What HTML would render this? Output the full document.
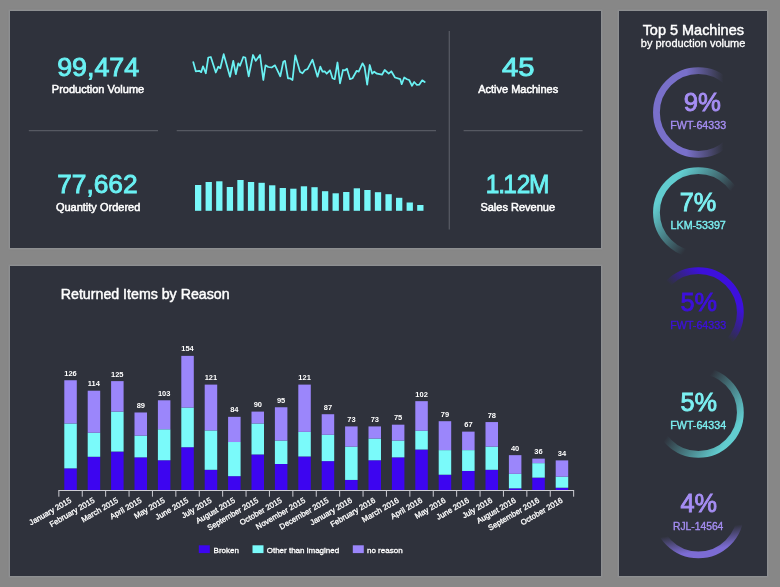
<!DOCTYPE html>
<html lang="en">
<head>
<meta charset="utf-8">
<title>Production Dashboard</title>
<style>
html,body{margin:0;padding:0;}
body{width:780px;height:587px;background:#878787;overflow:hidden;position:relative;font-family:"Liberation Sans",sans-serif;}
.panel{position:absolute;background:#2f323c;box-shadow:0 0 1.5px 1px rgba(152,155,160,.6);}
svg{position:absolute;left:0;top:0;display:block;overflow:visible;}
text{font-family:"Liberation Sans",sans-serif;}
.big{font-size:26.7px;fill:#6af1f3;text-anchor:middle;stroke:#6af1f3;stroke-width:.9px;}
.lbl{font-size:11px;fill:#fff;text-anchor:middle;stroke:#fff;stroke-width:.5px;}
.title{font-size:14.2px;fill:#fff;stroke:#fff;stroke-width:.45px;}
.val{font-size:7.5px;font-weight:700;fill:#fff;text-anchor:middle;}
.ax{font-size:7.8px;fill:#fff;text-anchor:end;stroke:#fff;stroke-width:.3px;}
.lg{font-size:8px;fill:#fff;stroke:#fff;stroke-width:.3px;}
.pct{font-size:26.7px;text-anchor:middle;stroke-width:.9px;}
.mid{font-size:10.7px;text-anchor:middle;stroke-width:.35px;}
</style>
</head>
<body>

<section class="panel" style="left:10px;top:11px;width:591px;height:237px;">
<svg width="591" height="237" viewBox="10 11 591 237">
<g stroke="#565962" stroke-width="1.3" fill="none">
<path d="M28.8 130.7H158"/><path d="M176.7 130.7H436"/><path d="M463.6 130.7H582.6"/><path d="M449.3 31V229.6"/>
</g>
<text class="big" x="98.2" y="75.6" textLength="82" lengthAdjust="spacingAndGlyphs">99,474</text>
<text class="lbl" x="98" y="92.6">Production Volume</text>
<text class="big" x="97.4" y="193.3" textLength="80.5" lengthAdjust="spacingAndGlyphs">77,662</text>
<text class="lbl" x="98.1" y="211.2">Quantity Ordered</text>
<text class="big" x="518.3" y="75.6" textLength="32.5" lengthAdjust="spacingAndGlyphs">45</text>
<text class="lbl" x="518.2" y="92.6">Active Machines</text>
<g transform="translate(517.6 193.3) scale(.916 1)"><text class="big" x="0" y="0" dx="0 -1.3 -1.8 -0.3 -1.3">1.12M</text></g>
<text class="lbl" x="517.7" y="211.2">Sales Revenue</text>
<path d="M193.3 62.2 L195.8 71.3 L199.2 70.8 L201.2 72.2 L203.0 66.3 L205.8 73.3 L208.3 57.5 L210.8 57.0 L215.8 72.5 L218.3 66.7 L220.3 68.3 L223.7 54.2 L230.0 76.7 L233.3 60.8 L235.8 74.2 L238.3 63.3 L240.0 65.8 L243.3 57.0 L245.3 57.5 L248.7 76.3 L253.0 55.0 L255.8 60.8 L260.0 55.0 L263.3 80.0 L265.5 65.3 L268.3 67.0 L271.7 67.5 L275.0 65.3 L280.3 76.3 L283.3 61.7 L285.0 60.8 L288.0 78.3 L290.0 78.3 L292.5 80.0 L295.3 55.3 L300.0 71.7 L302.5 73.3 L305.0 70.0 L307.5 69.2 L312.5 59.7 L317.5 76.7 L320.3 66.7 L322.5 71.7 L324.7 71.3 L326.7 73.7 L330.0 70.3 L332.5 78.3 L334.7 79.2 L337.5 62.5 L340.0 83.3 L343.0 70.0 L345.0 70.3 L347.0 68.7 L350.0 79.2 L352.5 78.3 L356.7 70.8 L358.7 71.7 L362.5 63.3 L364.5 66.7 L367.2 84.7 L369.7 65.0 L372.2 73.7 L374.2 71.7 L377.0 73.7 L382.0 74.7 L384.7 70.0 L388.7 73.7 L391.3 71.3 L395.0 77.5 L400.3 79.2 L401.7 84.2 L404.2 77.5 L407.0 79.2 L409.2 80.0 L412.0 85.8 L414.2 82.0 L417.0 85.0 L419.2 84.7 L422.2 80.3 L424.7 82.0" fill="none" stroke="#6af1f3" stroke-width="1.75" stroke-linejoin="round" stroke-linecap="round"/>
<g fill="#78f8fa">
<rect x="195.00" y="185.0" width="6.3" height="25.8"/>
<rect x="205.58" y="182.0" width="6.3" height="28.8"/>
<rect x="216.16" y="181.3" width="6.3" height="29.5"/>
<rect x="226.74" y="187.0" width="6.3" height="23.8"/>
<rect x="237.32" y="180.0" width="6.3" height="30.8"/>
<rect x="247.90" y="182.0" width="6.3" height="28.8"/>
<rect x="258.48" y="182.8" width="6.3" height="28.0"/>
<rect x="269.06" y="185.3" width="6.3" height="25.5"/>
<rect x="279.64" y="188.0" width="6.3" height="22.8"/>
<rect x="290.22" y="188.7" width="6.3" height="22.1"/>
<rect x="300.80" y="186.3" width="6.3" height="24.5"/>
<rect x="311.38" y="187.2" width="6.3" height="23.6"/>
<rect x="321.96" y="191.2" width="6.3" height="19.6"/>
<rect x="332.54" y="193.3" width="6.3" height="17.5"/>
<rect x="343.12" y="192.0" width="6.3" height="18.8"/>
<rect x="353.70" y="188.3" width="6.3" height="22.5"/>
<rect x="364.28" y="190.0" width="6.3" height="20.8"/>
<rect x="374.86" y="192.2" width="6.3" height="18.6"/>
<rect x="385.44" y="194.2" width="6.3" height="16.6"/>
<rect x="396.02" y="197.8" width="6.3" height="13.0"/>
<rect x="406.60" y="202.5" width="6.3" height="8.3"/>
<rect x="417.18" y="205.0" width="6.3" height="5.8"/>
</g>
</svg></section>
<section class="panel" style="left:10px;top:266px;width:591px;height:310px;">
<svg width="591" height="310" viewBox="10 266 591 310">
<text class="title" x="60.8" y="299.4">Returned Items by Reason</text>
<g fill="#3d05f0">
<rect x="64.30" y="468.35" width="12.5" height="21.65"/>
<rect x="87.70" y="456.77" width="12.5" height="33.23"/>
<rect x="111.10" y="451.56" width="12.5" height="38.44"/>
<rect x="134.50" y="457.35" width="12.5" height="32.65"/>
<rect x="157.90" y="460.25" width="12.5" height="29.75"/>
<rect x="181.30" y="447.22" width="12.5" height="42.78"/>
<rect x="204.70" y="469.80" width="12.5" height="20.20"/>
<rect x="228.10" y="476.16" width="12.5" height="13.84"/>
<rect x="251.50" y="454.46" width="12.5" height="35.54"/>
<rect x="274.90" y="464.01" width="12.5" height="25.99"/>
<rect x="298.30" y="456.48" width="12.5" height="33.52"/>
<rect x="321.70" y="461.11" width="12.5" height="28.89"/>
<rect x="345.10" y="479.93" width="12.5" height="10.07"/>
<rect x="368.50" y="460.25" width="12.5" height="29.75"/>
<rect x="391.90" y="457.35" width="12.5" height="32.65"/>
<rect x="415.30" y="449.54" width="12.5" height="40.46"/>
<rect x="438.70" y="474.72" width="12.5" height="15.28"/>
<rect x="462.10" y="470.96" width="12.5" height="19.04"/>
<rect x="485.50" y="469.80" width="12.5" height="20.20"/>
<rect x="508.90" y="488.32" width="12.5" height="1.68"/>
<rect x="532.30" y="477.61" width="12.5" height="12.39"/>
<rect x="555.70" y="487.71" width="12.5" height="2.29"/>
</g>
<g fill="#7afafa">
<rect x="64.30" y="423.49" width="12.5" height="44.86"/>
<rect x="87.70" y="432.75" width="12.5" height="24.02"/>
<rect x="111.10" y="411.62" width="12.5" height="39.94"/>
<rect x="134.50" y="435.64" width="12.5" height="21.71"/>
<rect x="157.90" y="429.28" width="12.5" height="30.97"/>
<rect x="181.30" y="407.57" width="12.5" height="39.65"/>
<rect x="204.70" y="430.43" width="12.5" height="39.36"/>
<rect x="228.10" y="442.01" width="12.5" height="34.15"/>
<rect x="251.50" y="423.49" width="12.5" height="30.97"/>
<rect x="274.90" y="440.56" width="12.5" height="23.44"/>
<rect x="298.30" y="431.88" width="12.5" height="24.60"/>
<rect x="321.70" y="434.78" width="12.5" height="26.34"/>
<rect x="345.10" y="446.64" width="12.5" height="33.29"/>
<rect x="368.50" y="438.54" width="12.5" height="21.71"/>
<rect x="391.90" y="440.56" width="12.5" height="16.79"/>
<rect x="415.30" y="430.72" width="12.5" height="18.81"/>
<rect x="438.70" y="450.12" width="12.5" height="24.60"/>
<rect x="462.10" y="450.12" width="12.5" height="20.84"/>
<rect x="485.50" y="446.64" width="12.5" height="23.15"/>
<rect x="508.90" y="473.85" width="12.5" height="14.47"/>
<rect x="532.30" y="463.14" width="12.5" height="14.47"/>
<rect x="555.70" y="476.69" width="12.5" height="11.03"/>
</g>
<g fill="#9b86fb">
<rect x="64.30" y="380.25" width="12.5" height="43.23"/>
<rect x="87.70" y="390.71" width="12.5" height="42.04"/>
<rect x="111.10" y="381.12" width="12.5" height="30.50"/>
<rect x="134.50" y="412.48" width="12.5" height="23.16"/>
<rect x="157.90" y="400.29" width="12.5" height="28.99"/>
<rect x="181.30" y="355.87" width="12.5" height="51.70"/>
<rect x="204.70" y="384.61" width="12.5" height="45.83"/>
<rect x="228.10" y="416.84" width="12.5" height="25.18"/>
<rect x="251.50" y="411.61" width="12.5" height="11.88"/>
<rect x="274.90" y="407.25" width="12.5" height="33.31"/>
<rect x="298.30" y="384.61" width="12.5" height="47.27"/>
<rect x="321.70" y="414.22" width="12.5" height="20.55"/>
<rect x="345.10" y="426.42" width="12.5" height="20.23"/>
<rect x="368.50" y="426.42" width="12.5" height="12.12"/>
<rect x="391.90" y="424.68" width="12.5" height="15.89"/>
<rect x="415.30" y="401.16" width="12.5" height="29.57"/>
<rect x="438.70" y="421.19" width="12.5" height="28.92"/>
<rect x="462.10" y="431.64" width="12.5" height="18.47"/>
<rect x="485.50" y="422.06" width="12.5" height="24.58"/>
<rect x="508.90" y="455.16" width="12.5" height="18.69"/>
<rect x="532.30" y="458.64" width="12.5" height="4.50"/>
<rect x="555.70" y="460.39" width="12.5" height="16.30"/>
</g>
<path d="M58.4 490.5H574.1M58.85 490.5v6.2M82.25 490.5v6.2M105.65 490.5v6.2M129.05 490.5v6.2M152.45 490.5v6.2M175.85 490.5v6.2M199.25 490.5v6.2M222.65 490.5v6.2M246.05 490.5v6.2M269.45 490.5v6.2M292.85 490.5v6.2M316.25 490.5v6.2M339.65 490.5v6.2M363.05 490.5v6.2M386.45 490.5v6.2M409.85 490.5v6.2M433.25 490.5v6.2M456.65 490.5v6.2M480.05 490.5v6.2M503.45 490.5v6.2M526.85 490.5v6.2M550.25 490.5v6.2M573.65 490.5v6.2" stroke="#cdcdd3" stroke-width="1" fill="none"/>
<g>
<text class="val" x="70.5" y="375.7">126</text>
<text class="val" x="93.9" y="386.1">114</text>
<text class="val" x="117.3" y="376.5">125</text>
<text class="val" x="140.8" y="407.9">89</text>
<text class="val" x="164.2" y="395.7">103</text>
<text class="val" x="187.5" y="351.3">154</text>
<text class="val" x="210.9" y="380.0">121</text>
<text class="val" x="234.3" y="412.2">84</text>
<text class="val" x="257.8" y="407.0">90</text>
<text class="val" x="281.1" y="402.7">95</text>
<text class="val" x="304.6" y="380.0">121</text>
<text class="val" x="327.9" y="409.6">87</text>
<text class="val" x="351.4" y="421.8">73</text>
<text class="val" x="374.8" y="421.8">73</text>
<text class="val" x="398.1" y="420.1">75</text>
<text class="val" x="421.6" y="396.6">102</text>
<text class="val" x="444.9" y="416.6">79</text>
<text class="val" x="468.4" y="427.0">67</text>
<text class="val" x="491.8" y="417.5">78</text>
<text class="val" x="515.1" y="450.6">40</text>
<text class="val" x="538.5" y="454.0">36</text>
<text class="val" x="561.9" y="455.8">34</text>
</g>
<g>
<text class="ax" transform="translate(72.0 501.9) rotate(-30)">January 2015</text>
<text class="ax" transform="translate(95.3 501.9) rotate(-30)">February 2015</text>
<text class="ax" transform="translate(118.8 501.9) rotate(-30)">March 2015</text>
<text class="ax" transform="translate(142.2 501.9) rotate(-30)">April 2015</text>
<text class="ax" transform="translate(165.6 501.9) rotate(-30)">May 2015</text>
<text class="ax" transform="translate(188.9 501.9) rotate(-30)">June 2015</text>
<text class="ax" transform="translate(212.3 501.9) rotate(-30)">July 2015</text>
<text class="ax" transform="translate(235.8 501.9) rotate(-30)">August 2015</text>
<text class="ax" transform="translate(259.1 501.9) rotate(-30)">September 2015</text>
<text class="ax" transform="translate(282.5 501.9) rotate(-30)">October 2015</text>
<text class="ax" transform="translate(305.9 501.9) rotate(-30)">November 2015</text>
<text class="ax" transform="translate(329.3 501.9) rotate(-30)">December 2015</text>
<text class="ax" transform="translate(352.8 501.9) rotate(-30)">January 2016</text>
<text class="ax" transform="translate(376.1 501.9) rotate(-30)">February 2016</text>
<text class="ax" transform="translate(399.5 501.9) rotate(-30)">March 2016</text>
<text class="ax" transform="translate(422.9 501.9) rotate(-30)">April 2016</text>
<text class="ax" transform="translate(446.3 501.9) rotate(-30)">May 2016</text>
<text class="ax" transform="translate(469.8 501.9) rotate(-30)">June 2016</text>
<text class="ax" transform="translate(493.1 501.9) rotate(-30)">July 2016</text>
<text class="ax" transform="translate(516.5 501.9) rotate(-30)">August 2016</text>
<text class="ax" transform="translate(539.9 501.9) rotate(-30)">September 2016</text>
<text class="ax" transform="translate(563.3 501.9) rotate(-30)">October 2016</text>
</g>
<rect x="198.8" y="545.3" width="11" height="7.8" fill="#3d05f0"/><text class="lg" x="213.6" y="552.5">Broken</text>
<rect x="252.5" y="545.3" width="11" height="7.8" fill="#7afafa"/><text class="lg" x="266.7" y="552.5">Other than imagined</text>
<rect x="352.8" y="545.3" width="11" height="7.8" fill="#9b86fb"/><text class="lg" x="367" y="552.5">no reason</text>
</svg></section>
<section class="panel" style="left:619px;top:11px;width:148px;height:565px;">
<svg width="148" height="565" viewBox="619 11 148 565">
<text class="title" x="693.3" y="35" text-anchor="middle" textLength="101.3" lengthAdjust="spacingAndGlyphs">Top 5 Machines</text>
<text x="693.1" y="47.3" text-anchor="middle" font-size="11" fill="#fff" stroke="#fff" stroke-width=".3">by production volume</text>
<defs>
<linearGradient id="rg0" gradientUnits="userSpaceOnUse" x1="723.4" y1="112.5" x2="686.4" y2="112.5"><stop offset="0" stop-color="#7970ca" stop-opacity="0"/><stop offset="1" stop-color="#7970ca" stop-opacity="1"/></linearGradient>
<linearGradient id="rg1" gradientUnits="userSpaceOnUse" x1="708.7" y1="220.4" x2="668.3" y2="189.3"><stop offset="0" stop-color="#62cdd0" stop-opacity="0"/><stop offset="1" stop-color="#62cdd0" stop-opacity="1"/></linearGradient>
<linearGradient id="rg2" gradientUnits="userSpaceOnUse" x1="699.1" y1="311.8" x2="720.2" y2="289.1"><stop offset="0" stop-color="#3d10dc" stop-opacity="0"/><stop offset="1" stop-color="#3d10dc" stop-opacity="1"/></linearGradient>
<linearGradient id="rg3" gradientUnits="userSpaceOnUse" x1="688.6" y1="405.6" x2="731.1" y2="435.5"><stop offset="0" stop-color="#62cdd0" stop-opacity="0"/><stop offset="1" stop-color="#62cdd0" stop-opacity="1"/></linearGradient>
<linearGradient id="rg4" gradientUnits="userSpaceOnUse" x1="701.4" y1="530.7" x2="704.6" y2="550.5"><stop offset="0" stop-color="#7c6cd4" stop-opacity="0"/><stop offset="1" stop-color="#7c6cd4" stop-opacity="1"/></linearGradient>
</defs>
<g fill="#a68ef4" stroke="#a68ef4">
<circle cx="698.4" cy="112.5" r="41.95" fill="none" stroke="url(#rg0)" stroke-width="6.8"/>
<text class="pct" x="702.4" y="111.2" textLength="37.2" lengthAdjust="spacingAndGlyphs">9%</text>
<text class="mid" x="698.1999999999999" y="129.1">FWT-64333</text>
</g>
<g fill="#7cf0f2" stroke="#7cf0f2">
<circle cx="698.4" cy="212.5" r="41.95" fill="none" stroke="url(#rg1)" stroke-width="6.8"/>
<text class="pct" x="698.0" y="211.2" textLength="36.6" lengthAdjust="spacingAndGlyphs">7%</text>
<text class="mid" x="698.1999999999999" y="229.1">LKM-53397</text>
</g>
<g fill="#3d10dc" stroke="#3d10dc">
<circle cx="698.4" cy="312.5" r="41.95" fill="none" stroke="url(#rg2)" stroke-width="6.8"/>
<text class="pct" x="698.8" y="311.2" textLength="36.6" lengthAdjust="spacingAndGlyphs">5%</text>
<text class="mid" x="698.1999999999999" y="329.1">FWT-64333</text>
</g>
<g fill="#7cf0f2" stroke="#7cf0f2">
<circle cx="698.4" cy="412.5" r="41.95" fill="none" stroke="url(#rg3)" stroke-width="6.8"/>
<text class="pct" x="698.8" y="411.2" textLength="36.6" lengthAdjust="spacingAndGlyphs">5%</text>
<text class="mid" x="698.1999999999999" y="429.1">FWT-64334</text>
</g>
<g fill="#a68ef4" stroke="#a68ef4">
<circle cx="698.4" cy="513.0" r="41.95" fill="none" stroke="url(#rg4)" stroke-width="6.8"/>
<text class="pct" x="698.8" y="511.7" textLength="36.6" lengthAdjust="spacingAndGlyphs">4%</text>
<text class="mid" x="698.1999999999999" y="529.6" textLength="50.3" lengthAdjust="spacingAndGlyphs">RJL-14564</text>
</g>
</svg></section>
</body></html>
